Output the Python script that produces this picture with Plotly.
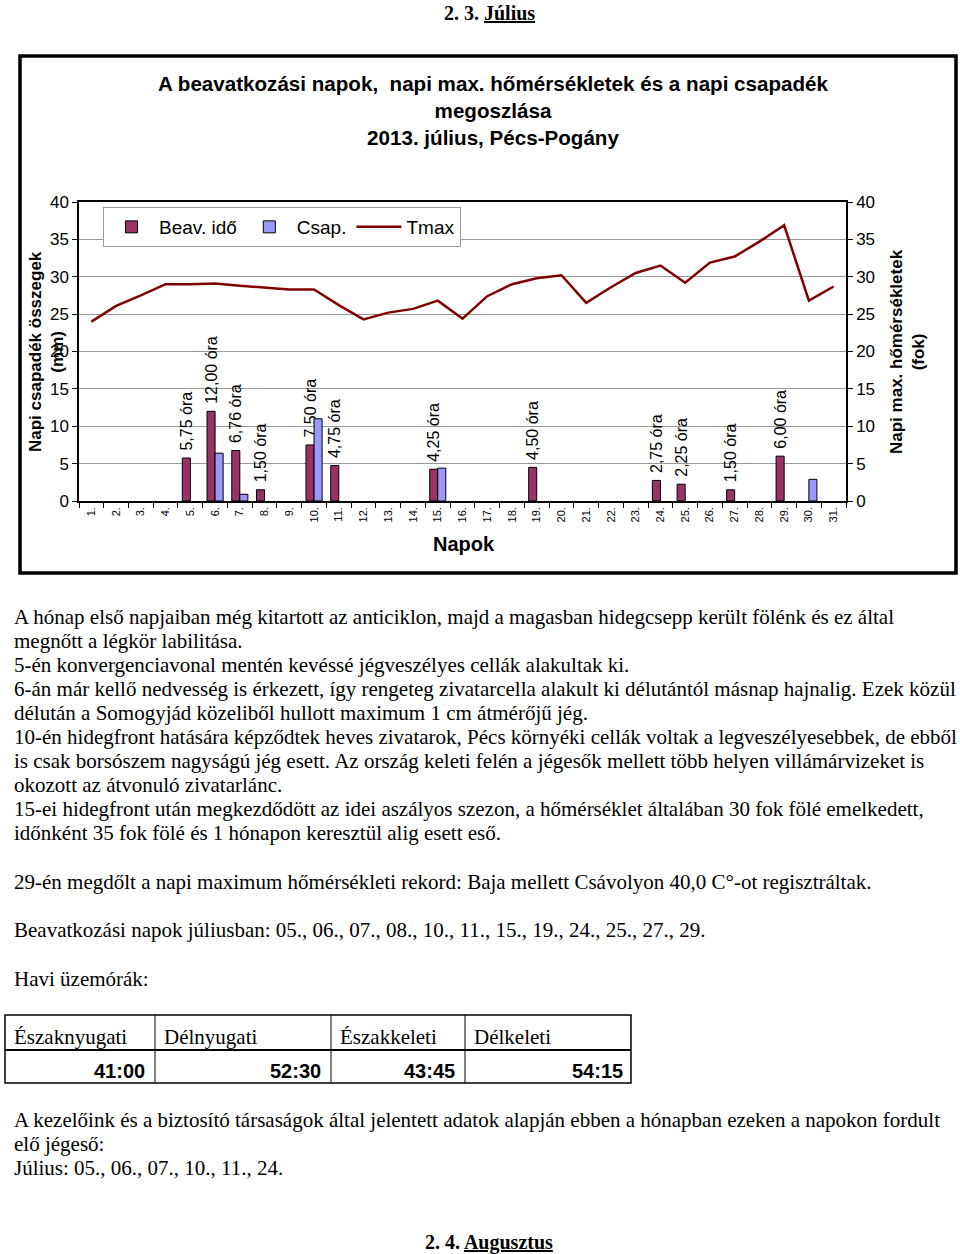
import plotly.graph_objects as go

# ---------------- data ----------------
days = [f"{i}." for i in range(1, 32)]
beav_hours = [None, None, None, None, 5.75, 12.00, 6.76, 1.50, None, 7.50, 4.75,
              None, None, None, 4.25, None, None, None, 4.50, None, None, None,
              None, 2.75, 2.25, None, 1.50, None, 6.00, None, None]
csap_mm = [None, None, None, None, None, 6.4, 0.9, None, None, 11.0, None,
           None, None, None, 4.4, None, None, None, None, None, None, None,
           None, None, None, None, None, None, None, 2.9, None]
tmax = [24.0, 26.1, 27.5, 29.0, 29.0, 29.1, 28.8, 28.5, 28.3, 28.3, 26.2,
        24.3, 25.2, 25.7, 26.8, 24.4, 27.4, 29.0, 29.8, 30.2, 26.5, 28.6,
        30.5, 31.5, 29.2, 31.9, 32.7, 34.7, 36.9, 26.8, 28.7]
beav_labels = [("" if v is None else "\u00a0" + f"{v:.2f}".replace(".", ",") + " óra") for v in beav_hours]

table_headers = ["Északnyugati", "Délnyugati", "Északkeleti", "Délkeleti"]
table_values = ["41:00", "52:30", "43:45", "54:15"]

body_lines = [
    (617, "A hónap első napjaiban még kitartott az anticiklon, majd a magasban hidegcsepp került fölénk és ez által"),
    (641, "megnőtt a légkör labilitása."),
    (665, "5-én konvergenciavonal mentén kevéssé jégveszélyes cellák alakultak ki."),
    (689, "6-án már kellő nedvesség is érkezett, így rengeteg zivatarcella alakult ki délutántól másnap hajnalig. Ezek közül"),
    (713, "délután a Somogyjád közeliből hullott maximum 1 cm átmérőjű jég."),
    (737, "10-én hidegfront hatására képződtek heves zivatarok, Pécs környéki cellák voltak a legveszélyesebbek, de ebből"),
    (761, "is csak borsószem nagyságú jég esett. Az ország keleti felén a jégesők mellett több helyen villámárvizeket is"),
    (785, "okozott az átvonuló zivatarlánc."),
    (809, "15-ei hidegfront után megkezdődött az idei aszályos szezon, a hőmérséklet általában 30 fok fölé emelkedett,"),
    (833, "időnként 35 fok fölé és 1 hónapon keresztül alig esett eső."),
    (882, "29-én megdőlt a napi maximum hőmérsékleti rekord: Baja mellett Csávolyon 40,0 C°-ot regisztráltak."),
    (930, "Beavatkozási napok júliusban: 05., 06., 07., 08., 10., 11., 15., 19., 24., 25., 27., 29."),
    (979, "Havi üzemórák:"),
    (1120, "A kezelőink és a biztosító társaságok által jelentett adatok alapján ebben a hónapban ezeken a napokon fordult"),
    (1144, "elő jégeső:"),
    (1168, "Július: 05., 06., 07., 10., 11., 24."),
]

W, H = 960, 1254
def px(x):
    return x / W
def py(y):
    return 1 - y / H

SERIF = "Liberation Serif, Times New Roman, serif"
SANS = "Liberation Sans, Arial, sans-serif"

fig = go.Figure()
fig.add_trace(go.Bar(
    x=days, y=beav_hours, name="Beav. idő",
    marker=dict(color="#993366", line=dict(color="black", width=1)),
    text=beav_labels, textposition="outside", textangle=-90,
    textfont=dict(family=SANS, size=16, color="black"),
    constraintext="none", cliponaxis=False,
))
fig.add_trace(go.Bar(
    x=days, y=csap_mm, name="Csap.",
    marker=dict(color="#9999FF", line=dict(color="black", width=1)),
))
fig.add_trace(go.Scatter(
    x=days, y=tmax, name="Tmax", yaxis="y2", mode="lines",
    line=dict(color="#800000", width=2.5),
))

annotations = []
def note(x, y, text, font, xanchor="center", yanchor="middle", **kw):
    annotations.append(dict(x=px(x), y=py(y), xref="paper", yref="paper", showarrow=False,
                            xanchor=xanchor, yanchor=yanchor, text=text, font=font, **kw))

# page headings
note(489, 13, "<b>2. 3. <u>Július</u></b>", dict(family=SERIF, size=20, color="black"))
note(489, 1242, "<b>2. 4. <u>Augusztus</u></b>", dict(family=SERIF, size=20, color="black"))
# chart title
note(494, 111, "<b>A beavatkozási napok,  napi max. hőmérsékletek és a napi csapadék<br>megoszlása<br>2013. július, Pécs-Pogány</b>",
     dict(family=SANS, size=20.6, color="black"), align="center")
# axis titles
note(46, 352, "<b>Napi csapadék összegek<br>(mm)</b>", dict(family=SANS, size=17, color="black"), textangle=-90)
note(907, 352, "<b>Napi max. hőmérsékletek<br>(fok)</b>", dict(family=SANS, size=17, color="black"), textangle=-90)
note(464, 544, "<b>Napok</b>", dict(family=SANS, size=20, color="black"))
# body text
for yy, t in body_lines:
    note(12, yy, t, dict(family=SERIF, size=21, color="black"), xanchor="left")
# table text
hdr_x = [12, 162, 338, 472]
val_x = [147, 323, 457, 625]
for hx, h in zip(hdr_x, table_headers):
    note(hx, 1037, h, dict(family=SERIF, size=21, color="black"), xanchor="left")
for vx, v in zip(val_x, table_values):
    note(vx, 1071, f"<b>{v}</b>", dict(family=SANS, size=20, color="black"), xanchor="right")

shapes = []
shapes.append(dict(type="rect", xref="paper", yref="paper", x0=px(20), x1=px(956), y0=py(573), y1=py(56),
                   line=dict(color="black", width=3.5)))
shapes.append(dict(type="rect", xref="paper", yref="paper", x0=px(5), x1=px(631), y0=py(1083), y1=py(1015),
                   line=dict(color="black", width=1.5)))
shapes.append(dict(type="line", xref="paper", yref="paper", x0=px(5), x1=px(631), y0=py(1050), y1=py(1050),
                   line=dict(color="black", width=2)))
for cx in [155, 331, 465]:
    shapes.append(dict(type="line", xref="paper", yref="paper", x0=px(cx), x1=px(cx), y0=py(1083), y1=py(1015),
                       line=dict(color="black", width=1)))

fig.update_layout(
    width=W, height=H, margin=dict(l=0, r=0, t=0, b=0, pad=0, autoexpand=False),
    paper_bgcolor="white", plot_bgcolor="white",
    barmode="group", bargap=0.35, bargroupgap=0,
    font=dict(family=SANS, color="black"),
    showlegend=True,
    legend=dict(orientation="h", x=px(103), y=py(207), xanchor="left", yanchor="top",
                bgcolor="white", bordercolor="#999999", borderwidth=1,
                font=dict(family=SANS, size=19, color="black"), itemwidth=45,
                traceorder="normal"),
    xaxis=dict(domain=[px(79), px(846)], type="category", tickangle=-90,
               tickfont=dict(family=SANS, size=11, color="black"),
               showline=True, linecolor="black", linewidth=1.5, mirror=True,
               ticks="outside", tickson="boundaries", ticklen=5, tickcolor="black",
               showgrid=False),
    yaxis=dict(domain=[py(501), py(202)], range=[0, 40], dtick=5,
               showgrid=True, gridcolor="#999999", gridwidth=1,
               showline=True, linecolor="black", linewidth=1.5,
               ticks="outside", ticklen=5, tickcolor="black",
               tickfont=dict(family=SANS, size=17, color="black"), zeroline=False),
    yaxis2=dict(overlaying="y", side="right", range=[0, 40], dtick=5, showgrid=False,
                showline=True, linecolor="black", linewidth=1.5,
                ticks="outside", ticklen=5, tickcolor="black",
                tickfont=dict(family=SANS, size=17, color="black"), zeroline=False),
    annotations=annotations,
    shapes=shapes,
)

fig.write_html("out.html", config={"displayModeBar": False},
               post_script="document.documentElement.style.margin='0';document.body.style.margin='0';")
